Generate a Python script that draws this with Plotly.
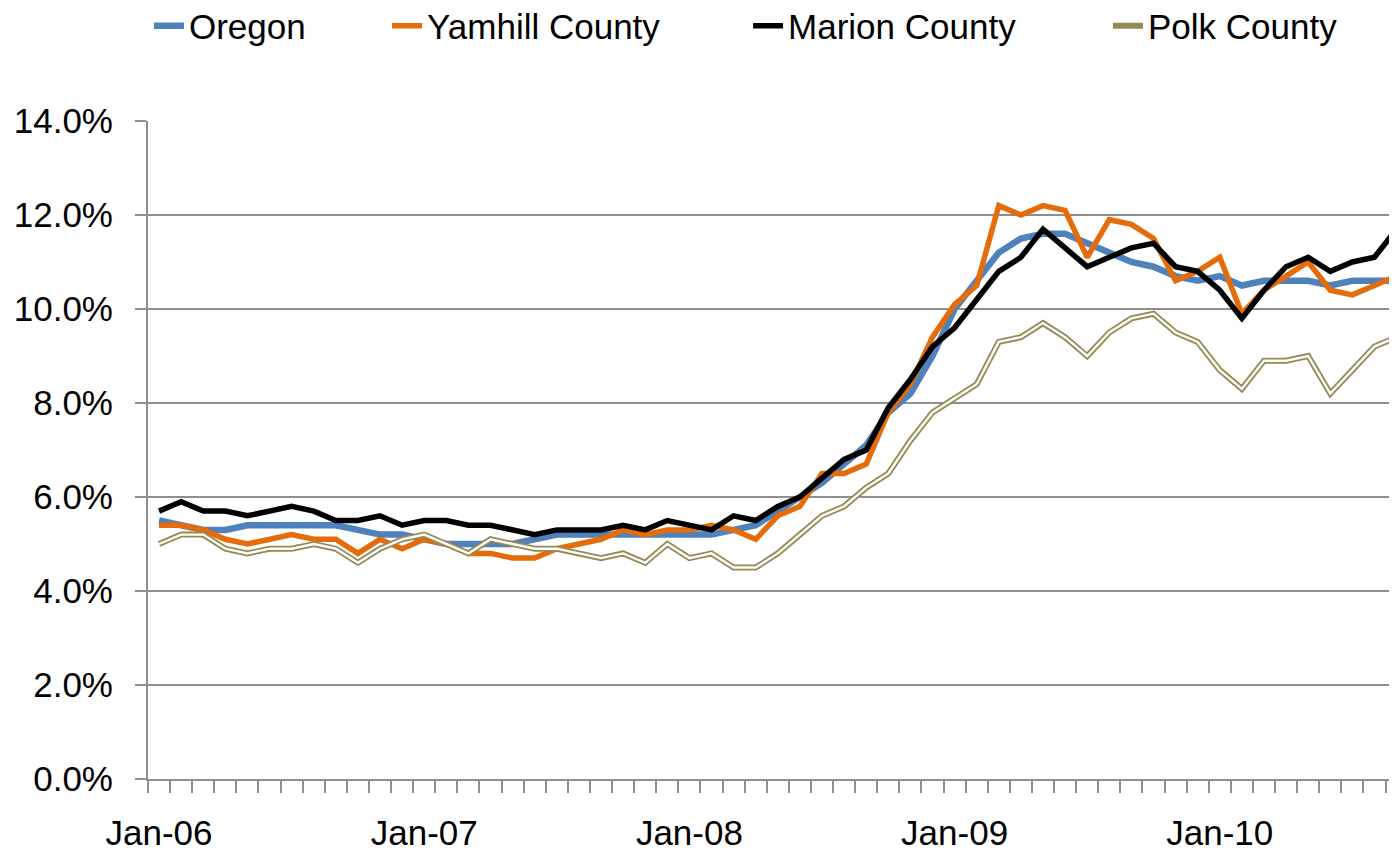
import pandas as pd
import plotly.graph_objects as go

# monthly unemployment rate (%), Jan-06 .. Sep-10
months = pd.date_range("2006-01-01", periods=57, freq="MS").strftime("%b-%y").tolist()

oregon = [5.5, 5.4, 5.3, 5.3, 5.4, 5.4, 5.4, 5.4, 5.4, 5.3, 5.2, 5.2,
          5.1, 5.0, 5.0, 5.0, 5.0, 5.1, 5.2, 5.2, 5.2, 5.2, 5.2, 5.2,
          5.2, 5.2, 5.3, 5.4, 5.7, 6.0, 6.3, 6.7, 7.1, 7.8, 8.2, 9.0,
          10.0, 10.6, 11.2, 11.5, 11.6, 11.6, 11.4, 11.2, 11.0, 10.9, 10.7, 10.6,
          10.7, 10.5, 10.6, 10.6, 10.6, 10.5, 10.6, 10.6, 10.6]

yamhill = [5.4, 5.4, 5.3, 5.1, 5.0, 5.1, 5.2, 5.1, 5.1, 4.8, 5.1, 4.9,
           5.1, 5.0, 4.8, 4.8, 4.7, 4.7, 4.9, 5.0, 5.1, 5.3, 5.2, 5.3,
           5.3, 5.4, 5.3, 5.1, 5.6, 5.8, 6.5, 6.5, 6.7, 7.8, 8.4, 9.4,
           10.1, 10.5, 12.2, 12.0, 12.2, 12.1, 11.1, 11.9, 11.8, 11.5, 10.6, 10.8,
           11.1, 9.9, 10.4, 10.7, 11.0, 10.4, 10.3, 10.5, 10.7]

marion = [5.7, 5.9, 5.7, 5.7, 5.6, 5.7, 5.8, 5.7, 5.5, 5.5, 5.6, 5.4,
          5.5, 5.5, 5.4, 5.4, 5.3, 5.2, 5.3, 5.3, 5.3, 5.4, 5.3, 5.5,
          5.4, 5.3, 5.6, 5.5, 5.8, 6.0, 6.4, 6.8, 7.0, 7.9, 8.5, 9.2,
          9.6, 10.2, 10.8, 11.1, 11.7, 11.3, 10.9, 11.1, 11.3, 11.4, 10.9, 10.8,
          10.4, 9.8, 10.4, 10.9, 11.1, 10.8, 11.0, 11.1, 11.7]

polk = [5.0, 5.2, 5.2, 4.9, 4.8, 4.9, 4.9, 5.0, 4.9, 4.6, 4.9, 5.1,
        5.2, 5.0, 4.8, 5.1, 5.0, 4.9, 4.9, 4.8, 4.7, 4.8, 4.6, 5.0,
        4.7, 4.8, 4.5, 4.5, 4.8, 5.2, 5.6, 5.8, 6.2, 6.5, 7.2, 7.8,
        8.1, 8.4, 9.3, 9.4, 9.7, 9.4, 9.0, 9.5, 9.8, 9.9, 9.5, 9.3,
        8.7, 8.3, 8.9, 8.9, 9.0, 8.2, 8.7, 9.2, 9.4]

x = list(range(len(months)))
jan_idx = [i for i, m in enumerate(months) if m.startswith("Jan")]
jan_lbl = [months[i] for i in jan_idx]

FONT = "Liberation Sans, Arial, sans-serif"
GRID = "#8f8f8f"

fig = go.Figure()
fig.add_trace(go.Scatter(x=x, y=oregon, mode="lines", name="Oregon",
                         line=dict(color="#4f81bd", width=6.5), legend="legend"))
fig.add_trace(go.Scatter(x=x, y=yamhill, mode="lines", name="Yamhill County",
                         line=dict(color="#e46c0a", width=5.5), legend="legend2"))
fig.add_trace(go.Scatter(x=x, y=marion, mode="lines", name="Marion County",
                         line=dict(color="#000000", width=5.5), legend="legend3"))
# double line for Polk: olive outer stroke with a white core
fig.add_trace(go.Scatter(x=x, y=polk, mode="lines", name="Polk County",
                         line=dict(color="#948a54", width=6), legend="legend4"))
fig.add_trace(go.Scatter(x=x, y=polk, mode="lines", showlegend=False,
                         line=dict(color="#ffffff", width=2.4), hoverinfo="skip"))

# page body has an 8px margin, so the figure is sized to fit the window
leg = dict(orientation="h", xref="container", yref="container",
           yanchor="middle", y=0.9787, xanchor="left",
           font=dict(family=FONT, size=35, color="#000"),
           bgcolor="rgba(0,0,0,0)")
fig.update_layout(
    width=1389, height=844,
    margin=dict(l=140, r=0, t=113, b=73, autoexpand=False),
    paper_bgcolor="white", plot_bgcolor="rgba(0,0,0,0)",
    font=dict(family=FONT, size=35, color="#000"),
    legend=dict(leg, x=0.1015),
    legend2=dict(leg, x=0.2729),
    legend3=dict(leg, x=0.5328),
    legend4=dict(leg, x=0.7919),
)

fig.update_xaxes(
    range=[-0.5, 56.02], tickmode="array", tickvals=jan_idx, ticktext=jan_lbl,
    ticks="", ticklabelstandoff=22, showgrid=False, zeroline=False, automargin=False,
    showline=True, linecolor=GRID, linewidth=2,
    minor=dict(ticks="outside", ticklen=12, tickcolor=GRID, tickwidth=2,
               tickmode="array", tickvals=[i - 0.5 for i in range(len(months) + 1)],
               showgrid=False),
)
fig.update_yaxes(
    range=[0, 14], dtick=2, tickformat=".1f", ticksuffix="%", automargin=False,
    ticks="outside", ticklen=11, tickcolor=GRID, tickwidth=2, ticklabelstandoff=15,
    showgrid=True, gridcolor=GRID, gridwidth=2, zeroline=False,
    showline=True, linecolor=GRID, linewidth=2,
)

fig.write_html("out.html")
